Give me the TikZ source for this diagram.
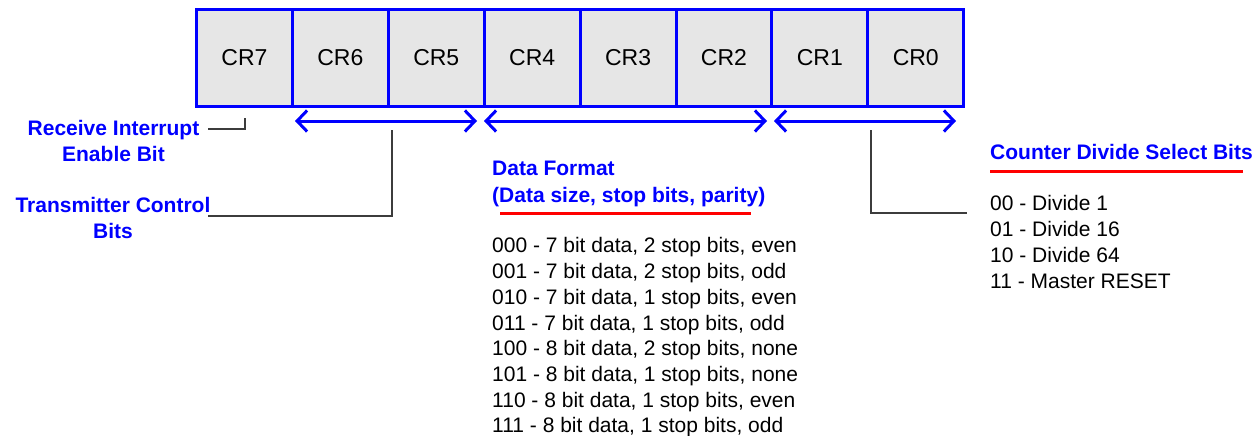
\documentclass[tikz,border=0pt]{standalone}
\usepackage{fontspec}
\setmainfont{Liberation Sans}
\usetikzlibrary{arrows.meta}
\definecolor{regfill}{RGB}{230,230,230}
\definecolor{leadgray}{RGB}{60,60,60}
\begin{document}
\begin{tikzpicture}[x=1pt,y=-1pt,
  regbox/.style={draw=blue, line width=3pt, fill=regfill, minimum width=95.9pt,
    minimum height=96.5pt, inner sep=0pt, font=\fontsize{23}{26}\selectfont},
  headc/.style={text=blue, font=\bfseries\fontsize{21}{26}\selectfont, align=center, inner sep=0pt},
  headl/.style={text=blue, font=\bfseries\fontsize{21}{26.5}\selectfont, align=left, inner sep=0pt, anchor=north west},
  span/.style={blue, line width=3pt,
    {Straight Barb[length=10pt,width=21pt,line width=3pt]}-{Straight Barb[length=10pt,width=21pt,line width=3pt]}},
  lead/.style={draw=leadgray, line width=1.3pt},
  rule/.style={red, line width=3pt},
  codes/.style={font=\fontsize{21}{25.7}\selectfont, align=left, anchor=north west, inner sep=0pt}]

\useasboundingbox (0,0) rectangle (1260,436);

% control register bits
\foreach \n [count=\i from 0] in {7,6,5,4,3,2,1,0}
  \node[regbox] (cr\n) at ({244.45+95.9*\i},57.75) {CR\n};

% bit-field spans
\coordinate (s1a) at (295,121); \coordinate (s1b) at (477,121);
\coordinate (s2a) at (484,121); \coordinate (s2b) at (767,121);
\coordinate (s3a) at (774,121); \coordinate (s3b) at (956,121);
\draw[span] (s1a) -- (s1b);
\draw[span] (s2a) -- (s2b);
\draw[span] (s3a) -- (s3b);

% receive interrupt enable
\node[headc] (rie) at (113.5,141) {Receive Interrupt\\Enable Bit};
\coordinate (rieL) at (208,129); \coordinate (rieT) at (245,118);
\draw[lead] (rieL) -| (rieT);

% transmitter control
\node[headc] (tcb) at (113,218) {Transmitter Control\\Bits};
\coordinate (tcbL) at (208,216); \coordinate (tcbT) at (392,130);
\draw[lead] (tcbL) -| (tcbT);

% data format
\node[headl] (dfh) at (492,161) {Data Format\\(Data size, stop bits, parity)};
\coordinate (dfr1) at (500,213); \coordinate (dfr2) at (751,213);
\draw[rule] (dfr1) -- (dfr2);
\node[codes] (dfl) at (492,237.5) {000 - 7 bit data, 2 stop bits, even\\
001 - 7 bit data, 2 stop bits, odd\\
010 - 7 bit data, 1 stop bits, even\\
011 - 7 bit data, 1 stop bits, odd\\
100 - 8 bit data, 2 stop bits, none\\
101 - 8 bit data, 1 stop bits, none\\
110 - 8 bit data, 1 stop bits, even\\
111 - 8 bit data, 1 stop bits, odd};

% counter divide select
\node[headl] (cdh) at (990,144) {Counter Divide Select Bits};
\coordinate (cdr1) at (990,171); \coordinate (cdr2) at (1243,171);
\draw[rule] (cdr1) -- (cdr2);
\coordinate (cdT) at (871,130); \coordinate (cdR) at (967,213);
\draw[lead] (cdT) |- (cdR);
\node[codes] (cdl) at (990,195.5) {00 - Divide 1\\
01 - Divide 16\\
10 - Divide 64\\
11 - Master RESET};
\end{tikzpicture}
\end{document}
